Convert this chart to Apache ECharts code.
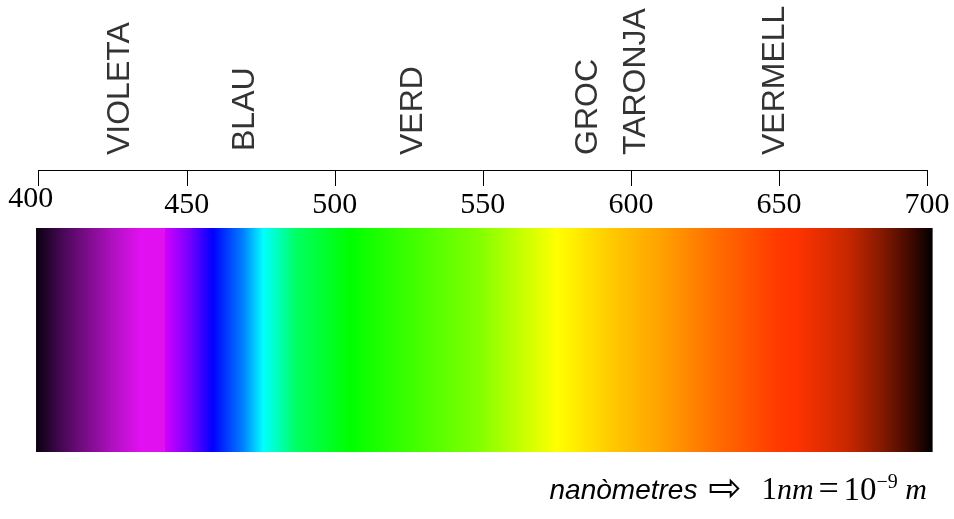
<!DOCTYPE html>
<html>
<head>
<meta charset="utf-8">
<script src="https://cdn.jsdelivr.net/npm/echarts@6/dist/echarts.min.js"></script>
<style>
html, body { margin: 0; padding: 0; background: #fff; }
#chart { width: 954px; height: 519px; }
</style>
</head>
<body>
<div id="chart"></div>
<script>
// escala de longituds d'ona (nm)
const axisMin = 400
const axisMax = 700
const tickStep = 50

// noms dels colors i on cauen
const colorNames = ['VIOLETA', 'BLAU', 'VERD', 'GROC', 'TARONJA', 'VERMELL']
const colorNamePos = [427.5, 469.6, 526.4, 585.5, 601.7, 648.6]
const colorNameLift = [0, 0.026, 0, 0, 0, 0]

// franja de l'espectre: longitud d'ona -> color
const bandStart = 399.1
const bandEnd = 701.9
const stopNm = [399.1, 408.2, 425.1, 434.2, 442.6, 442.6, 450.1, 458.9, 469.0, 475.8, 479.2, 487.2, 505.1, 521.0, 548.0, 575.0, 593.9, 610.8, 627.7, 650.3, 656.0, 672.9, 684.0, 695.2, 701.9]
const stopColor = ['#0a0010', '#4a0858', '#b010c0', '#e010f0', '#e010f0', '#d000ff', '#8000ff', '#0000ff', '#0080ff', '#00ffff', '#00ffd0', '#00ff60', '#00ff00', '#30ff00', '#80ff00', '#ffff00', '#ffc800', '#ffa000', '#ff7000', '#ff3800', '#ff3300', '#c82800', '#8a1a00', '#3a0800', '#000000']

const chart = echarts.init(document.getElementById('chart'))

const stops = stopNm.map(function (nm, i) {
  return { offset: (nm - bandStart) / (bandEnd - bandStart), color: stopColor[i] }
})

const option = {
  animation: false,
  backgroundColor: '#fff',
  title: {
    text: '{a|nanòmetres}{b|⇨}{c|1}{d|nm}{q|=}{n|10}{e|−9}{d| m}',
    right: 27,
    bottom: 6,
    padding: 0,
    textStyle: {
      fontWeight: 'normal',
      rich: {
        a: { fontFamily: 'Liberation Sans', fontStyle: 'italic', fontWeight: 'normal', fontSize: 28, color: '#000' },
        b: { fontFamily: 'DejaVu Sans', fontWeight: 'normal', fontSize: 40, lineHeight: 30, color: '#000', width: 53, align: 'left', padding: [0, 0, 0, 11] },
        c: { fontFamily: 'Liberation Serif', fontWeight: 'normal', fontSize: 31, color: '#000' },
        d: { fontFamily: 'Liberation Serif', fontStyle: 'italic', fontWeight: 'normal', fontSize: 30, color: '#000' },
        q: { fontFamily: 'Liberation Serif', fontWeight: 'normal', fontSize: 36, color: '#000', width: 30, align: 'center' },
        n: { fontFamily: 'Liberation Serif', fontWeight: 'normal', fontSize: 33, color: '#000' },
        e: { fontFamily: 'Liberation Serif', fontWeight: 'normal', fontSize: 20, color: '#000', verticalAlign: 'top' }
      }
    }
  },
  grid: [
    { left: 38.7, right: 27, top: 228, bottom: 67 },
    { left: 38.7, right: 27, top: 0, height: 155 }
  ],
  xAxis: [
    {
      gridIndex: 0,
      type: 'value',
      position: 'top',
      offset: 58,
      min: axisMin,
      max: axisMax,
      interval: tickStep,
      axisLine: { show: true, onZero: false, lineStyle: { color: '#000', width: 1 } },
      axisTick: { show: true, inside: true, length: 16, lineStyle: { color: '#000', width: 1 } },
      axisLabel: {
        inside: true,
        margin: 20,
        color: '#000',
        fontFamily: 'Liberation Serif',
        fontSize: 30,
        formatter: function (v) {
          return v === axisMin ? '{first|' + v + '}' : String(v)
        },
        rich: {
          first: { fontFamily: 'Liberation Serif', fontSize: 30, color: '#000', lineHeight: 18, padding: [0, 16, 0, 0] }
        }
      },
      splitLine: { show: false }
    },
    { gridIndex: 1, type: 'value', min: axisMin, max: axisMax, show: false }
  ],
  yAxis: [
    { gridIndex: 0, type: 'value', min: 0, max: 1, show: false },
    { gridIndex: 1, type: 'value', min: 0, max: 1, show: false }
  ],
  series: [
    {
      type: 'custom',
      xAxisIndex: 0,
      yAxisIndex: 0,
      encode: { x: [0, 1], y: [2, 3] },
      data: [[bandStart, bandEnd, 1, 0]],
      renderItem: function (params, api) {
        const p0 = api.coord([api.value(0), api.value(2)])
        const p1 = api.coord([api.value(1), api.value(3)])
        return {
          type: 'rect',
          shape: { x: p0[0], y: p0[1], width: p1[0] - p0[0], height: p1[1] - p0[1] },
          style: { fill: new echarts.graphic.LinearGradient(0, 0, 1, 0, stops) }
        }
      }
    },
    {
      type: 'scatter',
      xAxisIndex: 1,
      yAxisIndex: 1,
      symbolSize: 0,
      clip: false,
      data: colorNames.map(function (name, i) {
        return { name: name, value: [colorNamePos[i], colorNameLift[i]] }
      }),
      label: {
        show: true,
        formatter: '{b}',
        position: [0, 0],
        rotate: 90,
        align: 'left',
        verticalAlign: 'middle',
        color: '#000',
        fontFamily: 'Liberation Sans',
        fontSize: 32
      }
    }
  ]
}

chart.setOption(option)
</script>
</body>
</html>
